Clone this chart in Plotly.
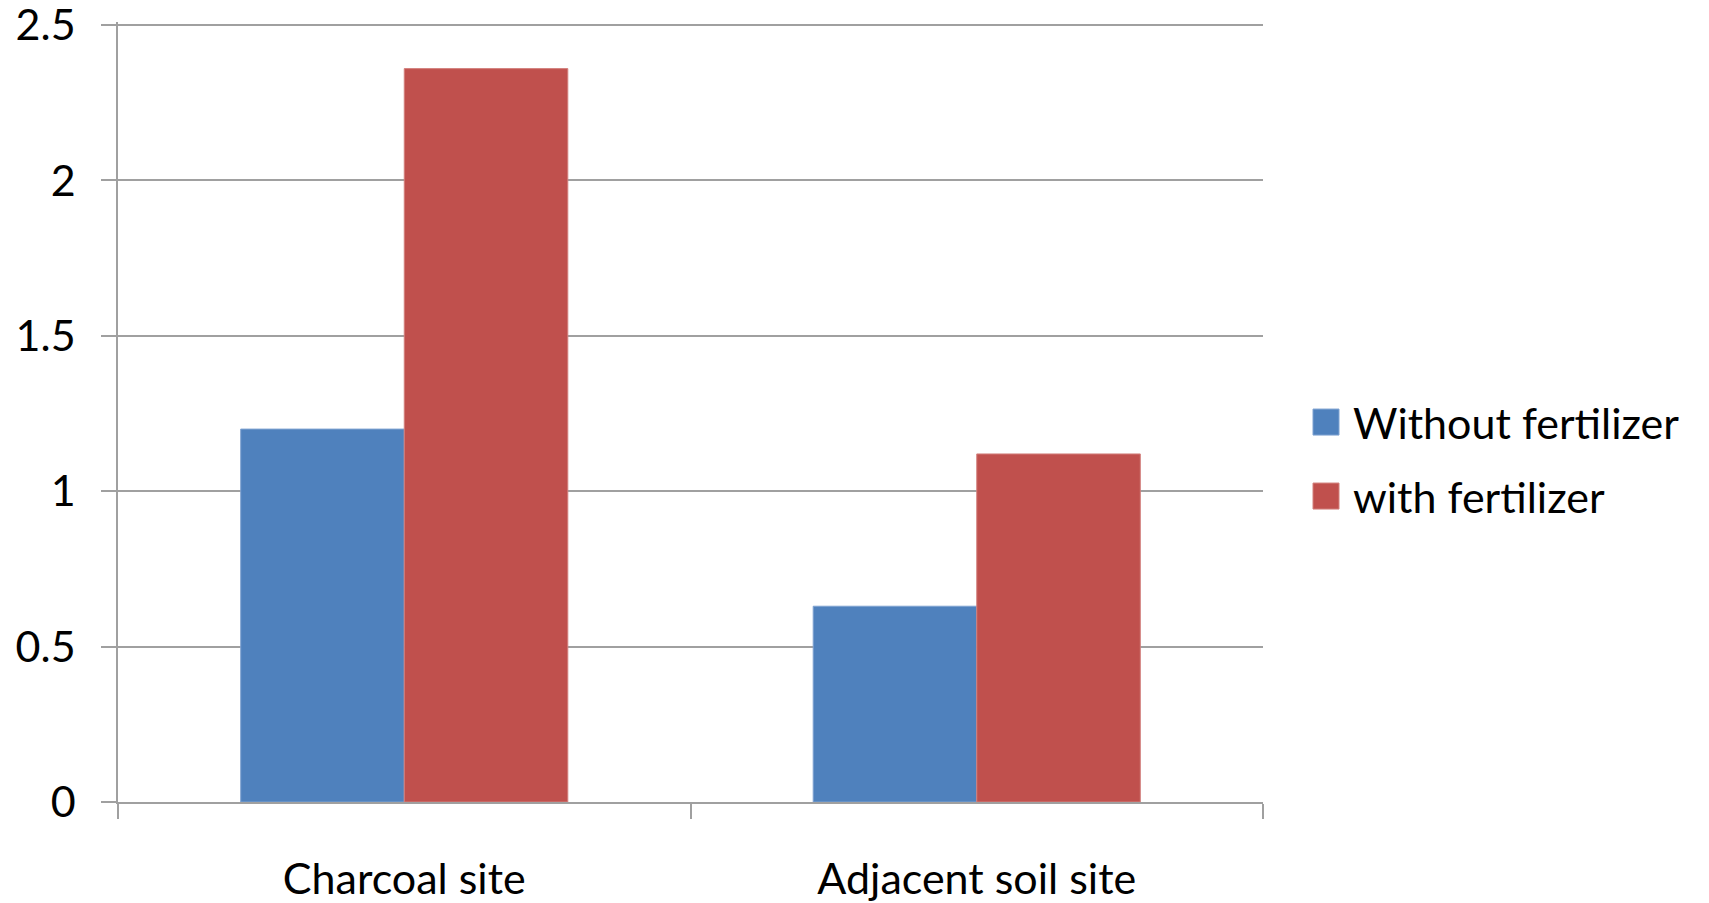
import plotly.graph_objects as go

# Data
categories = ["Charcoal site", "Adjacent soil site"]
series_names = ["Without fertilizer", "with fertilizer"]
without_fertilizer = [1.2, 0.63]
with_fertilizer = [2.36, 1.12]
series_colors = ["#4F81BD", "#C0504D"]
edge_colors = ["#7FA2D1", "#D3807D"]
y_ticks = [0, 0.5, 1, 1.5, 2, 2.5]
y_tick_labels = ["0", "0.5", "1", "1.5", "2", "2.5"]

FONT = "Lato"
FONT_SIZE = 43
GRID = "#A0A0A0"

# Page geometry (pixels); the value axis runs a hair past 2.5 so its
# top gridline and label are kept
W_PAGE, H_PAGE = 1709, 903
Y_MAX = 2.51
L, R, B = 118, 1263, 802
TOP_TICK_PX = 25
PW = R - L
PH = (B - TOP_TICK_PX) * Y_MAX / y_ticks[-1]
T = B - PH


def px(x):
    return (x - L) / PW


def py(y):
    return (B - y) / PH


fig = go.Figure()
for name, vals, col, edge in zip(series_names, [without_fertilizer, with_fertilizer],
                                 series_colors, edge_colors):
    fig.add_trace(go.Bar(
        x=categories, y=vals, name=name,
        marker=dict(color=col, line=dict(color=edge, width=1)),
        showlegend=False,
    ))

# Legend drawn as squares plus labels
legend_rows = [422, 496]
for name, col, edge, yc in zip(series_names, series_colors, edge_colors, legend_rows):
    fig.add_shape(type="rect", xref="paper", yref="paper",
                  x0=px(1313), x1=px(1339), y0=py(yc + 13), y1=py(yc - 13),
                  fillcolor=col, line=dict(color=edge, width=1))
    fig.add_annotation(xref="paper", yref="paper", x=px(1351), y=py(yc),
                       xanchor="left", yanchor="middle", text=name, showarrow=False,
                       font=dict(family=FONT, size=FONT_SIZE, color="#000000"))

fig.update_layout(
    width=W_PAGE, height=H_PAGE,
    margin=dict(l=L, r=W_PAGE - R, t=T, b=H_PAGE - B, pad=0),
    paper_bgcolor="white", plot_bgcolor="white",
    barmode="group", bargap=0.4286, bargroupgap=0,
    font=dict(family=FONT, size=FONT_SIZE, color="#000000"),
    showlegend=False,
)
fig.update_yaxes(
    range=[0, Y_MAX], tickvals=y_ticks, ticktext=y_tick_labels,
    showgrid=True, gridcolor=GRID, gridwidth=1.5,
    showline=True, linecolor=GRID, linewidth=1.5,
    ticks="outside", ticklen=15, tickcolor=GRID, tickwidth=1.5,
    ticklabelstandoff=17, ticklabeloverflow="allow",
    zeroline=False, automargin=False,
)
fig.update_xaxes(
    showgrid=False, showline=True, linecolor=GRID, linewidth=1.5,
    ticks="outside", tickson="boundaries", ticklen=15, tickcolor=GRID, tickwidth=1.5,
    ticklabelstandoff=39, ticklabeloverflow="allow", automargin=False,
)

fig.write_html("out.html")
